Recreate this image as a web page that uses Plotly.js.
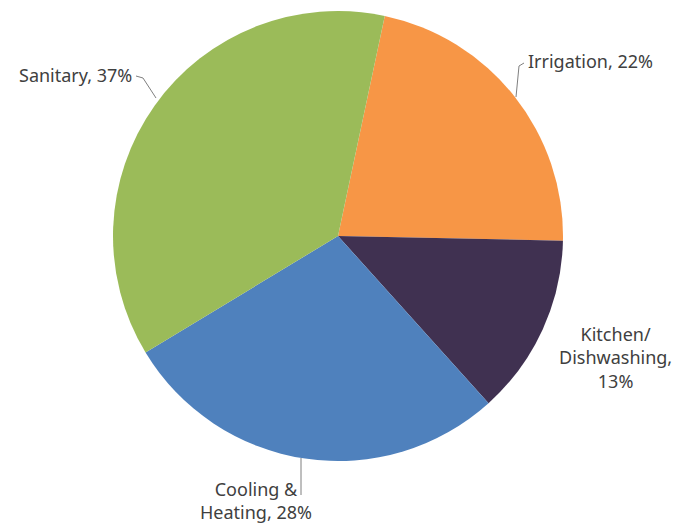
<!DOCTYPE html>
<html>
<head>
<meta charset="utf-8">
<script src="https://cdn.plot.ly/plotly-3.0.1.min.js"></script>
<style>html,body{margin:0;padding:0;background:#fff;}#chart{width:682px;height:523px;}</style>
</head>
<body>
<div id="chart"></div>
<script>
const categories = ["Irrigation", "Kitchen/Dishwashing", "Cooling & Heating", "Sanitary"];
const labelTexts = ["Irrigation, 22%", "Kitchen/<br>Dishwashing,<br>13%", "Cooling &amp;<br>Heating, 28%", "Sanitary, 37%"];
const values = [22, 13, 28, 37];
const colors = ["#F79646", "#403151", "#4F81BD", "#9BBB59"];

const W = 682, H = 523;
const px = x => x / W;
const py = y => 1 - y / H;

const font = {family: "Noto Sans, Open Sans, sans-serif", size: 18, color: "#404040"};

const trace = {
  type: "pie",
  labels: categories,
  values: values,
  sort: false,
  direction: "clockwise",
  rotation: 12,
  marker: {colors: colors, line: {width: 0}},
  textinfo: "none",
  hoverinfo: "label+percent",
  showlegend: false,
  domain: {x: [px(113), px(563)], y: [py(461), py(11)]}
};

const annotations = [
  {text: labelTexts[3], x: px(134), y: py(75), xanchor: "right", yanchor: "middle", showarrow: false, font: font, align: "right"},
  {text: labelTexts[0], x: px(526), y: py(61), xanchor: "left", yanchor: "middle", showarrow: false, font: font, align: "left"},
  {text: labelTexts[1], x: px(615), y: py(357), xanchor: "center", yanchor: "middle", showarrow: false, font: font, align: "center"},
  {text: labelTexts[2], x: px(256), y: py(500), xanchor: "center", yanchor: "middle", showarrow: false, font: font, align: "center"}
];

const lineStyle = {color: "#7F7F7F", width: 1};
const shapes = [
  {type: "path", xref: "paper", yref: "paper", line: lineStyle,
   path: `M ${px(136)} ${py(76)} L ${px(143)} ${py(78)} L ${px(156)} ${py(98)}`},
  {type: "path", xref: "paper", yref: "paper", line: lineStyle,
   path: `M ${px(524)} ${py(63)} L ${px(519)} ${py(66)} L ${px(516)} ${py(97)}`},
  {type: "line", xref: "paper", yref: "paper", line: lineStyle,
   x0: px(301), y0: py(458), x1: px(301), y1: py(495)}
];

Plotly.newPlot("chart", [trace], {
  width: W, height: H,
  margin: {l: 0, r: 0, t: 0, b: 0},
  paper_bgcolor: "#ffffff",
  annotations: annotations,
  shapes: shapes
}, {displayModeBar: false, staticPlot: true});
</script>
</body>
</html>
